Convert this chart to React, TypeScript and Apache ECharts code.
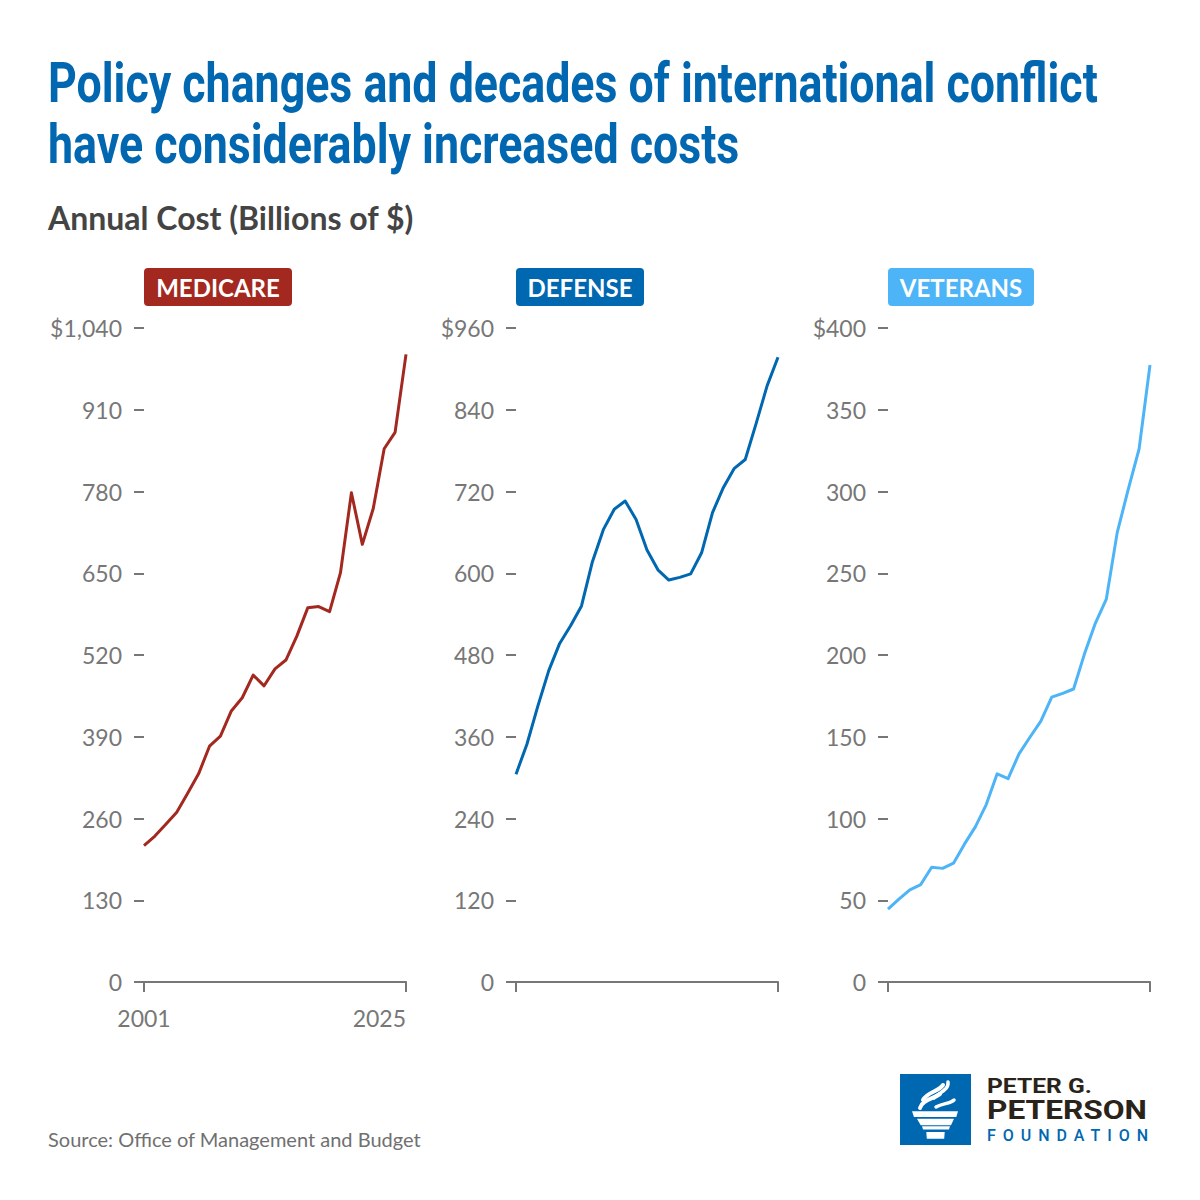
import React, { useEffect, useRef } from "react";
import * as echarts from "echarts";

// ---- data ----
const years = [
  "2001", "2002", "2003", "2004", "2005", "2006", "2007", "2008", "2009", "2010",
  "2011", "2012", "2013", "2014", "2015", "2016", "2017", "2018", "2019", "2020",
  "2021", "2022", "2023", "2024", "2025",
];
const medicare = [217, 232, 251, 270, 300, 331, 375, 391, 431, 452, 488, 471, 498, 512, 550, 595, 597, 589, 651, 778, 696, 753, 848, 874, 998];
const defense = [305, 349, 405, 457, 497, 523, 552, 617, 664, 694, 706, 679, 634, 605, 590, 594, 599, 630, 689, 726, 754, 767, 820, 875, 917];
const veterans = [44.6, 50.7, 56.4, 59.6, 70.2, 69.5, 72.7, 84.3, 94.9, 108.5, 127.3, 124.4, 139.5, 149.7, 159.5, 174.2, 176.5, 179.2, 200.7, 219.5, 234.2, 275, 301.1, 326, 377.4];

const panelNames = ["MEDICARE", "DEFENSE", "VETERANS"];
const panelColors = ["#A3281F", "#0067B1", "#4DB4F8"];
const yMaxes = [1040, 960, 400];
const yIntervals = [130, 120, 50];

const titleLines = [
  "Policy changes and decades of international conflict",
  "have considerably increased costs",
];
const subtitle = "Annual Cost (Billions of $)";
const sourceText = "Source: Office of Management and Budget";
const logoLines = ["PETER G.", "PETERSON", "FOUNDATION"];

// ---- layout ----
const gridLefts = [144, 516, 888];
const gridTop = 328;
const gridW = 262;
const gridH = 654;
const labelBoxW = [148, 128, 146];
const axisGray = "#777777";

function measure(text: string, font: string): number {
  const c = document.createElement("canvas").getContext("2d");
  if (!c) return text.length * 10;
  c.font = font;
  return c.measureText(text).width;
}

const fmt = (v: number) => v.toLocaleString("en-US");

export default function App() {
  const ref = useRef<HTMLDivElement>(null);

  useEffect(() => {
    document.body.style.margin = "0";
    if (!ref.current) return;
    const chart = echarts.init(ref.current, null, { renderer: "svg" });

    const titleScale = 1050 / measure(titleLines[0], "bold 55px Roboto");
    const peterScale = 105 / measure(logoLines[0], "bold 21px Roboto");
    const petersonScale = 160 / measure(logoLines[1], "bold 25px Roboto");
    const foundW = measure(logoLines[2], "500 16px Roboto");
    const foundSpacing = (161 - foundW) / 9;

    const seriesData = [medicare, defense, veterans];
    const lastIdx = years.length - 1;

    const graphic: any[] = [
      ...titleLines.map((t, i) => ({
        type: "text",
        x: 48,
        y: 83 + i * 61,
        scaleX: titleScale,
        style: {
          text: t,
          fill: "#0067B0",
          fontFamily: "Roboto",
          fontWeight: "bold",
          fontSize: 55,
          align: "left",
          verticalAlign: "middle",
        },
      })),
      {
        type: "text",
        x: 48,
        y: 217,
        style: {
          text: subtitle,
          fill: "#444444",
          fontFamily: "Lato",
          fontWeight: "bold",
          fontSize: 32,
          align: "left",
          verticalAlign: "middle",
        },
      },
      ...panelNames.map((n, i) => ({
        type: "group",
        children: [
          {
            type: "rect",
            shape: { x: gridLefts[i], y: 268, width: labelBoxW[i], height: 38, r: 4 },
            style: { fill: panelColors[i] },
          },
          {
            type: "text",
            x: gridLefts[i] + labelBoxW[i] / 2,
            y: 287,
            style: {
              text: n,
              fill: "#ffffff",
              fontFamily: "Lato",
              fontWeight: "bold",
              fontSize: 24,
              align: "center",
              verticalAlign: "middle",
            },
          },
        ],
      })),
      {
        type: "text",
        x: 48,
        y: 1139,
        style: {
          text: sourceText,
          fill: "#707070",
          fontFamily: "Lato",
          fontSize: 20,
          align: "left",
          verticalAlign: "middle",
        },
      },
      // logo
      {
        type: "group",
        children: [
          { type: "rect", shape: { x: 900, y: 1074, width: 71, height: 71 }, style: { fill: "#0067B1" } },
          { type: "polygon", shape: { points: [[912, 1111.3], [958, 1111.3], [956.3, 1117], [914, 1117]] }, style: { fill: "#fff" } },
          { type: "polygon", shape: { points: [[917, 1118.7], [954, 1118.7], [951, 1125.3], [920.7, 1125.3]] }, style: { fill: "#fff" } },
          { type: "polygon", shape: { points: [[922, 1126.3], [950, 1126.3], [949, 1129.5], [923, 1129.5]] }, style: { fill: "#fff" } },
          { type: "polygon", shape: { points: [[926.3, 1132], [944.7, 1132], [944.2, 1138.7], [926.8, 1138.7]] }, style: { fill: "#fff" } },
          { type: "bezierCurve", shape: { x1: 920, y1: 1108, cpx1: 922, cpy1: 1100, cpx2: 933, cpy2: 1099, x2: 940, y2: 1094 }, style: { stroke: "#fff", lineWidth: 4, fill: null, lineCap: "round" } },
          { type: "bezierCurve", shape: { x1: 923, y1: 1100, cpx1: 927, cpy1: 1092, cpx2: 938, cpy2: 1092, x2: 943, y2: 1085 }, style: { stroke: "#fff", lineWidth: 4, fill: null, lineCap: "round" } },
          { type: "bezierCurve", shape: { x1: 934, y1: 1098, cpx1: 940, cpy1: 1092, cpx2: 949, cpy2: 1090, x2: 948, y2: 1082 }, style: { stroke: "#fff", lineWidth: 3.5, fill: null, lineCap: "round" } },
          { type: "bezierCurve", shape: { x1: 936, y1: 1107, cpx1: 943, cpy1: 1103, cpx2: 950, cpy2: 1104, x2: 954, y2: 1100 }, style: { stroke: "#fff", lineWidth: 3.5, fill: null, lineCap: "round" } },
          {
            type: "text",
            x: 987,
            y: 1085.8,
            scaleX: peterScale,
            style: { text: logoLines[0], fill: "#2A2319", fontFamily: "Roboto", fontWeight: "bold", fontSize: 21, align: "left", verticalAlign: "middle" },
          },
          {
            type: "text",
            x: 987,
            y: 1111,
            scaleX: petersonScale,
            style: { text: logoLines[1], fill: "#2A2319", fontFamily: "Roboto", fontWeight: "bold", fontSize: 25, align: "left", verticalAlign: "middle" },
          },
          {
            type: "text",
            x: 987,
            y: 1135.5,
            style: { text: logoLines[2], fill: "#0067B1", fontFamily: "Roboto", fontWeight: 500, fontSize: 16, align: "left", verticalAlign: "middle" },
          },
        ],
      },
    ];

    const option: any = {
      animation: false,
      backgroundColor: "#ffffff",
      graphic,
      grid: gridLefts.map((l) => ({ left: l, top: gridTop, width: gridW, height: gridH, containLabel: false })),
      xAxis: gridLefts.map((_, i) => ({
        type: "category",
        gridIndex: i,
        data: years,
        boundaryGap: false,
        axisLine: { show: true, lineStyle: { color: axisGray, width: 2 } },
        axisTick: {
          show: true,
          length: 10,
          interval: (idx: number) => idx === 0 || idx === lastIdx,
          lineStyle: { color: axisGray, width: 2 },
        },
        axisLabel: {
          show: i === 0,
          interval: (idx: number) => idx === 0 || idx === lastIdx,
          fontFamily: "Lato",
          fontSize: 23,
          color: axisGray,
          margin: 24,
          alignMaxLabel: "right",
        },
        splitLine: { show: false },
      })),
      yAxis: gridLefts.map((_, i) => ({
        type: "value",
        gridIndex: i,
        min: 0,
        max: yMaxes[i],
        interval: yIntervals[i],
        axisLine: { show: false },
        axisTick: { show: true, length: 10, lineStyle: { color: axisGray, width: 2 } },
        axisLabel: {
          fontFamily: "Lato",
          fontSize: 23,
          color: axisGray,
          margin: 22,
          formatter: (v: number) => (v === yMaxes[i] ? "$" + fmt(v) : fmt(v)),
        },
        splitLine: { show: false },
      })),
      series: seriesData.map((d, i) => ({
        type: "line",
        name: panelNames[i],
        xAxisIndex: i,
        yAxisIndex: i,
        data: d,
        symbol: "none",
        lineStyle: { color: panelColors[i], width: 3, join: "round" },
        itemStyle: { color: panelColors[i] },
        z: 5,
      })),
    };

    chart.setOption(option);

    const applySpacing = () => {
      if (!ref.current) return;
      ref.current.querySelectorAll("text").forEach((t) => {
        if (t.textContent === logoLines[2]) {
          t.setAttribute("letter-spacing", foundSpacing.toFixed(2));
          (t as SVGTextElement).style.letterSpacing = foundSpacing.toFixed(2) + "px";
        }
      });
    };
    applySpacing();
    chart.on("finished", applySpacing);
    const timer = window.setTimeout(applySpacing, 100);

    return () => {
      window.clearTimeout(timer);
      chart.dispose();
    };
  }, []);

  return <div ref={ref} style={{ width: 1200, height: 1200 }} />;
}
